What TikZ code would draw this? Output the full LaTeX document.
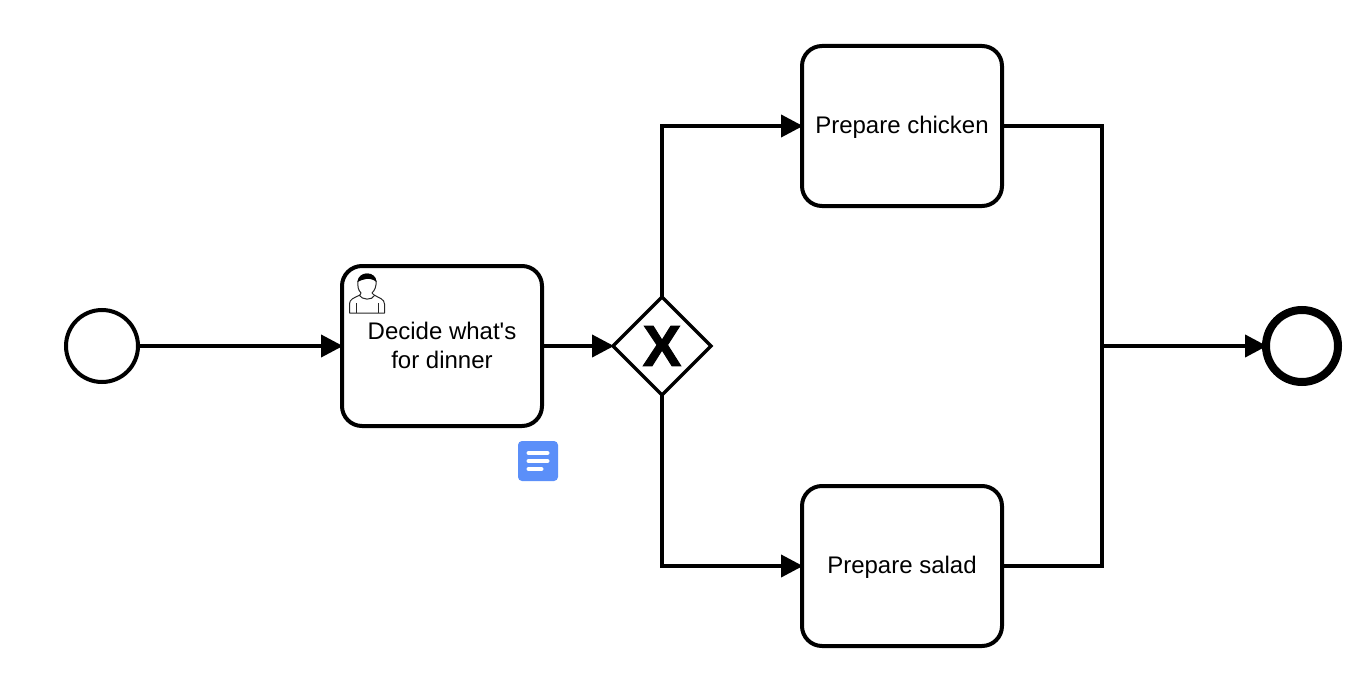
\documentclass[tikz,border=0pt]{standalone}
\usepackage{fontspec}
\setmainfont{Liberation Sans}
\newfontfamily\xfont[FakeBold=1.6]{Liberation Sans Bold}
\usetikzlibrary{arrows.meta,shapes.geometric}
\definecolor{notecol}{HTML}{5B8FF9}
\tikzset{
  flow/.style={line width=4pt,-{Triangle[length=22pt,width=22pt]},shorten >=-1pt},
  plain/.style={line width=4pt},
  task/.style={draw,line width=4pt,outer sep=0pt,rounded corners=20pt,minimum width=200pt,minimum height=160pt,inner sep=0pt},
  tasktext/.style={font=\fontsize{24}{29}\selectfont,align=center,inner sep=0pt},
  startev/.style={draw,circle,line width=4pt,outer sep=0pt,minimum size=72pt,inner sep=0pt},
  endev/.style={draw,circle,line width=8pt,outer sep=0pt,minimum size=72pt,inner sep=0pt},
  gate/.style={draw,diamond,aspect=1,line width=3.5pt,outer sep=0pt,minimum size=98pt,inner sep=0pt},
  notebar/.style={line width=4pt,white,line cap=round},
  icon/.style={line width=1pt,black!85}
}
\begin{document}
\begin{tikzpicture}[x=1pt,y=-1pt]
\useasboundingbox (0,0) rectangle (1366,690);
\node[startev] (start) at (102,346) {};
\node[task] (decide) at (442,346) {};
\node[tasktext] (decidetext) at (442,345) {Decide what\textquotesingle s\\for dinner};
\node[gate] (gw) at (662,346) {};
\node[font=\fontsize{58}{58}\selectfont\xfont,inner sep=0pt] (x) at (662,346) {X};
\node[task] (chicken) at (902,126) {};
\node[tasktext] (chickentext) at (902,127) {Prepare chicken};
\node[task] (salad) at (902,566) {};
\node[tasktext] (saladtext) at (902,567) {Prepare salad};
\node[endev] (end) at (1302,346) {};
\coordinate (jt) at (1102,126);
\coordinate (jm) at (1102,346);
\coordinate (jb) at (1102,566);
\coordinate (gt) at (662,126);
\coordinate (gb) at (662,566);
\draw[flow] (start.east) -- (decide.west);
\draw[flow] (decide.east) -- (gw.west);
\draw[flow,line join=miter] (gw.north) -- (gt) -- (chicken.west);
\draw[flow,line join=miter] (gw.south) -- (gb) -- (salad.west);
\draw[plain,line join=miter] (chicken.east) -- (jt) -- (jb) -- (salad.east);
\draw[flow] (jm) -- (end.west);
% note marker
\fill[notecol,rounded corners=4pt] (518,441) rectangle (558,481);
\draw[notebar] (528.5,453) -- (547.5,453);
\draw[notebar] (528.5,461) -- (547.5,461);
\draw[notebar] (528.5,469) -- (541.5,469);
% user icon
\draw[icon,line join=round] (349.5,313) -- (349.5,304) .. controls (349.5,299) and (354,298) .. (360,295) -- (361,293)
  .. controls (358,290) and (357.5,286) .. (358,281) .. controls (359,276) and (363,274) .. (367,274)
  .. controls (371,274) and (375,276) .. (376,281) .. controls (376.5,286) and (375,290) .. (372,293)
  -- (374,295) .. controls (379,298) and (384.5,299) .. (384.5,304) -- (384.5,313) -- cycle;
\fill[black] (357.5,282) .. controls (358,276) and (363,273.5) .. (367,273.5) .. controls (372,273.5) and (376,276) .. (376.5,282)
  .. controls (373,279) and (369,278.5) .. (366,279) .. controls (363,280) and (360,280) .. (357.5,282) -- cycle;
\draw[icon] (356,303) -- (356,313);
\draw[icon] (378,303) -- (378,313);
\draw[icon] (359,295) .. controls (362,300) and (372,301) .. (375,295);
\end{tikzpicture}
\end{document}
